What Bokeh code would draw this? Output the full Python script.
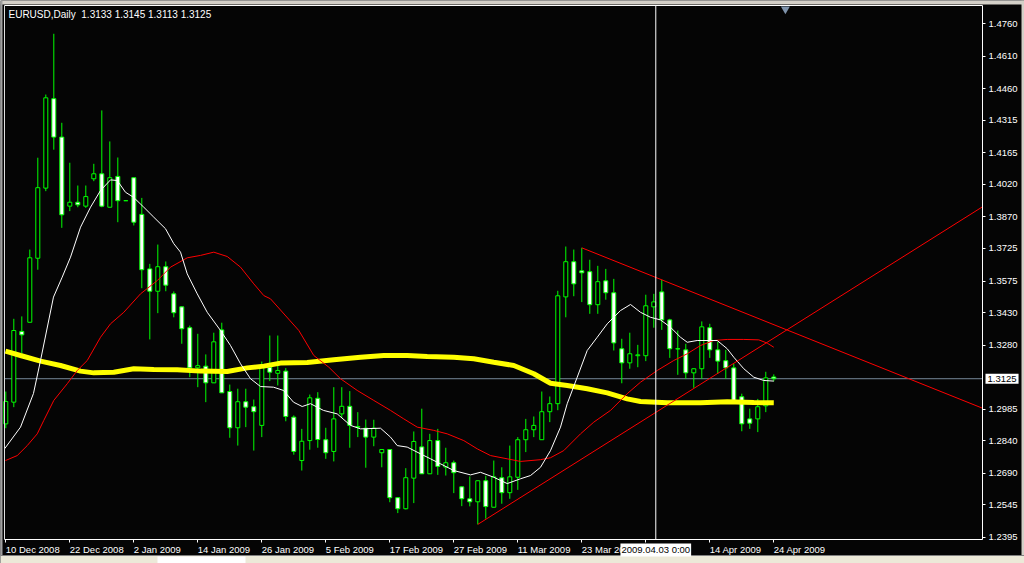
from bokeh.plotting import figure
from bokeh.models import Range1d, FixedTicker, NumeralTickFormatter, Label, ColumnDataSource, LinearAxis
from bokeh.embed import file_html
from bokeh.resources import INLINE

symbol = "EURUSD,Daily"

# Daily candles, 10 Dec 2008 .. 24 Apr 2009 (bar index 0..96)
opens = [1.2917, 1.3017, 1.3343, 1.3385, 1.3680, 1.4003, 1.4415, 1.4238, 1.3920, 1.3938,
         1.3920, 1.4046, 1.4069, 1.3915, 1.4057, 1.3945, 1.4051, 1.3882, 1.3631, 1.3528,
         1.3641, 1.3516, 1.3456, 1.3360, 1.3175, 1.3183, 1.3106, 1.3350, 1.3066, 1.2899,
         1.3019, 1.2996, 1.2910, 1.3178, 1.3150, 1.3160, 1.2948, 1.2748, 1.2840, 1.3035,
         1.2844, 1.2790, 1.2963, 1.2998, 1.2901, 1.2897, 1.2856, 1.2784, 1.2799, 1.2577,
         1.2526, 1.2667, 1.2811, 1.2687, 1.2840, 1.2718, 1.2738, 1.2627, 1.2572, 1.2558,
         1.2655, 1.2533, 1.2669, 1.2600, 1.2671, 1.2844, 1.2890, 1.2844, 1.2973, 1.3010,
         1.3502, 1.3664, 1.3622, 1.3618, 1.3466, 1.3576, 1.3521, 1.3263, 1.3198, 1.3231,
         1.3231, 1.3456, 1.3525, 1.3396, 1.3263, 1.3258, 1.3152, 1.3171, 1.3360, 1.3258,
         1.3208, 1.3175, 1.3042, 1.2940, 1.2940, 1.3000, 1.3133]
highs = [1.3066, 1.3401, 1.3412, 1.3720, 1.4143, 1.4434, 1.4714, 1.4304, 1.4120, 1.4015,
         1.4015, 1.4115, 1.4361, 1.4218, 1.4144, 1.3945, 1.4052, 1.3958, 1.3654, 1.3743,
         1.3665, 1.3527, 1.3458, 1.3370, 1.3332, 1.3237, 1.3337, 1.3383, 1.3098, 1.3079,
         1.3079, 1.3029, 1.3204, 1.3324, 1.3324, 1.3174, 1.2956, 1.2894, 1.3052, 1.3063,
         1.2899, 1.3086, 1.3086, 1.3068, 1.2971, 1.2937, 1.2936, 1.2801, 1.2801, 1.2578,
         1.2713, 1.2882, 1.2987, 1.2871, 1.2894, 1.2807, 1.2748, 1.2629, 1.2675, 1.2655,
         1.2678, 1.2748, 1.2717, 1.2817, 1.2856, 1.2940, 1.2951, 1.3066, 1.3043, 1.3530,
         1.3734, 1.3720, 1.3728, 1.3673, 1.3645, 1.3631, 1.3585, 1.3309, 1.3337, 1.3281,
         1.3512, 1.3516, 1.3581, 1.3401, 1.3347, 1.3286, 1.3172, 1.3389, 1.3378, 1.3295,
         1.3258, 1.3194, 1.3056, 1.2987, 1.3032, 1.3157, 1.3145]
lows = [1.2897, 1.2994, 1.3240, 1.3385, 1.3627, 1.3989, 1.4180, 1.3820, 1.3897, 1.3915,
        1.3912, 1.4035, 1.3915, 1.3915, 1.3846, 1.3945, 1.3831, 1.3542, 1.3306, 1.3427,
        1.3528, 1.3408, 1.3286, 1.3132, 1.3086, 1.3017, 1.3106, 1.3060, 1.2853, 1.2817,
        1.2902, 1.2794, 1.2856, 1.3114, 1.3094, 1.2929, 1.2775, 1.2702, 1.2798, 1.2807,
        1.2756, 1.2744, 1.2945, 1.2807, 1.2856, 1.2715, 1.2814, 1.2717, 1.2556, 1.2506,
        1.2523, 1.2552, 1.2687, 1.2686, 1.2682, 1.2679, 1.2598, 1.2538, 1.2537, 1.2454,
        1.2480, 1.2532, 1.2549, 1.2572, 1.2613, 1.2787, 1.2856, 1.2843, 1.2925, 1.2980,
        1.3408, 1.3505, 1.3478, 1.3424, 1.3424, 1.3489, 1.3255, 1.3104, 1.3171, 1.3178,
        1.3206, 1.3360, 1.3350, 1.3221, 1.3143, 1.3125, 1.3083, 1.3125, 1.3221, 1.3148,
        1.3125, 1.3017, 1.2883, 1.2894, 1.2879, 1.2971, 1.3113]
closes = [1.3020, 1.3347, 1.3327, 1.3682, 1.4005, 1.4419, 1.4238, 1.3880, 1.3938, 1.3926,
          1.3964, 1.4069, 1.3920, 1.4051, 1.3945, 1.3945, 1.3846, 1.3627, 1.3528, 1.3641,
          1.3556, 1.3429, 1.3355, 1.3175, 1.3185, 1.3106, 1.3295, 1.3060, 1.2899, 1.3019,
          1.2994, 1.2973, 1.3178, 1.3155, 1.3163, 1.2951, 1.2790, 1.2837, 1.3037, 1.2845,
          1.2784, 1.2940, 1.2998, 1.2910, 1.2905, 1.2856, 1.2897, 1.2799, 1.2577, 1.2526,
          1.2669, 1.2836, 1.2687, 1.2840, 1.2721, 1.2738, 1.2692, 1.2572, 1.2558, 1.2655,
          1.2536, 1.2673, 1.2600, 1.2673, 1.2844, 1.2890, 1.2910, 1.2973, 1.3010, 1.3507,
          1.3664, 1.3562, 1.3613, 1.3466, 1.3572, 1.3521, 1.3290, 1.3198, 1.3240, 1.3235,
          1.3461, 1.3479, 1.3396, 1.3263, 1.3262, 1.3152, 1.3171, 1.3364, 1.3258, 1.3206,
          1.3175, 1.3022, 1.2917, 1.2920, 1.2996, 1.3129, 1.3125]

# Fast moving average (white): bar position, price
fast_ma_x = [-0.16, 1.84, 3.46, 4.34, 5.96, 7.05, 8.09, 9.34, 10.59, 11.84, 13.09, 13.93, 14.96,
             15.96, 17.25, 18.5, 19.96, 21.0, 21.84, 22.68, 23.93, 25.18, 26.84, 28.09, 29.34,
             30.59, 31.84, 33.46, 34.71, 35.96, 37.05, 38.09, 39.71, 41.43, 43.09, 44.34, 46.84,
             48.09, 48.93, 50.18, 51.84, 53.09, 54.34, 56.0, 58.09, 59.34, 61.0, 62.68, 64.34,
             65.59, 66.84, 68.09, 69.34, 70.18, 71.43, 72.68, 73.93, 75.18, 76.84, 78.09, 79.34,
             80.59, 81.84, 83.09, 84.34, 85.18, 86.43, 88.93, 90.18, 91.0, 92.25, 93.5, 94.75, 96.0]
fast_ma_y = [1.2802, 1.2902, 1.3057, 1.3209, 1.3501, 1.3593, 1.3685, 1.3823, 1.3915, 1.3992,
             1.4041, 1.4038, 1.3984, 1.3961, 1.3915, 1.3869, 1.3816, 1.3747, 1.3708, 1.3608,
             1.3516, 1.3431, 1.3347, 1.3278, 1.3194, 1.3125, 1.3089, 1.3086, 1.3071, 1.3017,
             1.2997, 1.3010, 1.2979, 1.2963, 1.2910, 1.2894, 1.2897, 1.2856, 1.2817, 1.2810,
             1.2779, 1.2756, 1.2733, 1.2702, 1.2682, 1.2694, 1.2671, 1.2642, 1.2664, 1.2679,
             1.2717, 1.2794, 1.2902, 1.3010, 1.3132, 1.3255, 1.3316, 1.3378, 1.3439, 1.3467,
             1.3431, 1.3408, 1.3396, 1.3362, 1.3316, 1.3293, 1.3301, 1.3301, 1.3263, 1.3224,
             1.3171, 1.3132, 1.3117, 1.3114]

# Slow moving average (red)
slow_ma_x = [-0.04, 1.43, 2.68, 3.93, 4.75, 6.0, 7.68, 8.93, 10.18, 11.84, 13.09, 14.75, 16.84,
             18.93, 20.59, 22.68, 24.34, 26.0, 27.68, 29.34, 31.0, 32.25, 33.09, 36.63, 38.5,
             40.38, 41.84, 43.93, 46.0, 48.09, 49.75, 51.43, 53.5, 55.18, 57.25, 58.93, 60.59,
             62.68, 64.34, 66.84, 68.09, 69.75, 71.84, 73.5, 75.59, 77.68, 79.34, 81.43, 83.5,
             85.18, 86.84, 88.5, 90.18, 92.25, 94.13, 95.18, 96.0]
slow_ma_y = [1.2748, 1.2771, 1.2817, 1.2871, 1.2933, 1.3025, 1.3102, 1.3163, 1.3209, 1.3316,
             1.3378, 1.3431, 1.3516, 1.3577, 1.3639, 1.3682, 1.3693, 1.3708, 1.3688, 1.3639,
             1.3562, 1.3508, 1.3493, 1.3347, 1.3232, 1.3178, 1.3125, 1.3071, 1.3025, 1.2979,
             1.2940, 1.2902, 1.2887, 1.2871, 1.2840, 1.2802, 1.2771, 1.2756, 1.2744, 1.2752,
             1.2761, 1.2794, 1.2871, 1.2925, 1.2979, 1.3056, 1.3109, 1.3163, 1.3209, 1.3240,
             1.3278, 1.3301, 1.3306, 1.3306, 1.3304, 1.3289, 1.3270]

# Long moving average (thick yellow)
long_ma_x = [-0.04, 1.84, 4.34, 6.84, 9.34, 11.0, 13.5, 16.0, 18.5, 21.43, 24.34, 27.68, 30.18,
             32.25, 34.34, 37.68, 41.0, 44.34, 47.25, 50.18, 52.68, 56.0, 58.5, 61.0, 63.5,
             66.0, 68.09, 70.18, 72.68, 75.18, 77.68, 79.34, 82.68, 86.84, 90.18, 93.5, 96.0]
long_ma_y = [1.3252, 1.3232, 1.3206, 1.3186, 1.3160, 1.3152, 1.3155, 1.3171, 1.3168, 1.3166,
             1.3160, 1.3158, 1.3175, 1.3183, 1.3197, 1.3200, 1.3212, 1.3224, 1.3232, 1.3232,
             1.3227, 1.3224, 1.3217, 1.3201, 1.3186, 1.3148, 1.3104, 1.3094, 1.3079, 1.3060,
             1.3032, 1.3020, 1.3014, 1.3014, 1.3019, 1.3015, 1.3014]

# Trend lines (two anchors each, drawn as rays to the right edge of the chart)
resistance_bars = [72, 96]
resistance_prices = [1.3728, 1.3374]
support_bars = [59, 96]
support_prices = [1.2454, 1.3312]

# Axis ticks
date_tick_bars = [0, 8, 16, 24, 32, 40, 48, 56, 64, 72, 80, 88, 96]
date_tick_labels = ["10 Dec 2008", "22 Dec 2008", "2 Jan 2009", "14 Jan 2009", "26 Jan 2009",
                    "5 Feb 2009", "17 Feb 2009", "27 Feb 2009", "11 Mar 2009", "23 Mar 2009",
                    "", "14 Apr 2009", "24 Apr 2009"]
price_ticks = [1.4760, 1.4610, 1.4460, 1.4315, 1.4165, 1.4020, 1.3870, 1.3725, 1.3575,
               1.3430, 1.3280, 1.2985, 1.2840, 1.2690, 1.2545, 1.2395]

crosshair_bar = 81.25
crosshair_label = "2009.04.03 0:00"
shift_marker_bar = 97.45

# chart window (inner frame) and whole canvas extents, in bars / price
x_chart_left, x_chart_right = -0.1625, 122.09
y_chart_bottom, y_chart_top = 1.23844, 1.48443
x_view = (-0.6625, 127.34)
y_view = (1.22738, 1.48673)

W, H = 1024, 563
FONT = "Liberation Sans"
FS = "9.5px"
LIME = "#00ff00"
BG = "#050505"
CHROME = "#d4d0c8"

px_x = W / (x_view[1] - x_view[0])      # pixels per bar
px_y = H / (y_view[1] - y_view[0])      # pixels per price unit

p = figure(width=W, height=H, x_range=Range1d(*x_view), y_range=Range1d(*y_view),
           output_backend="svg", toolbar_location=None, y_axis_location="right",
           x_axis_location="below",
           background_fill_color=BG, border_fill_color=BG, outline_line_color=None,
           min_border_left=0, min_border_top=0, min_border_right=0, min_border_bottom=0)
p.grid.visible = False

# window chrome: top strip, left strip, right strip, bottom tab bar
p.quad(left=[x_view[0]], right=[x_view[1]], bottom=[y_view[1] - 4 / px_y], top=[y_view[1]],
       fill_color=CHROME, line_color=None)
p.quad(left=[x_view[0]], right=[x_view[0] + 2 / px_x], bottom=[y_view[0]], top=[y_view[1]],
       fill_color="#a0a0a0", line_color=None)
p.quad(left=[x_view[1] - 3 / px_x], right=[x_view[1]], bottom=[y_view[0]], top=[y_view[1]],
       fill_color=CHROME, line_color=None)
p.quad(left=[x_view[0]], right=[x_view[1]], bottom=[y_view[0]], top=[y_view[0] + 8 / px_y],
       fill_color="#ece9d8", line_color=None)
p.line([x_view[0], x_view[1]], [y_view[0] + 8 / px_y] * 2, line_color="#808080", line_width=1)
p.quad(left=[x_view[0] + 157 / px_x], right=[x_view[0] + 245 / px_x], bottom=[y_view[0]],
       top=[y_view[0] + 7 / px_y], fill_color="white", line_color=None)

# bottom time axis (drawn on the chart window's lower edge)
xa = p.xaxis[0]
xa.fixed_location = y_chart_bottom
xa.bounds = (x_chart_left, x_chart_right)
xa.ticker = FixedTicker(ticks=date_tick_bars)
xa.major_label_overrides = {b: lab for b, lab in zip(date_tick_bars, date_tick_labels)}
xa.major_label_orientation = -1e-6
xa.major_label_standoff = 7
xa.major_label_text_color = "white"
xa.major_label_text_font = FONT
xa.major_label_text_font_size = FS
xa.axis_line_color = "white"
xa.major_tick_line_color = "white"
xa.major_tick_out = 3
xa.major_tick_in = 0
xa.minor_tick_line_color = None

# right price axis (on the chart window's right edge)
ya = p.yaxis[0]
ya.fixed_location = x_chart_right
ya.bounds = (y_chart_bottom, y_chart_top)
ya.ticker = FixedTicker(ticks=price_ticks)
ya.formatter = NumeralTickFormatter(format="0.0000")
ya.axis_line_color = "white"
ya.major_tick_line_color = "white"
ya.major_tick_out = 3
ya.major_tick_in = 0
ya.minor_tick_line_color = None
ya.major_label_standoff = 3
ya.major_label_text_color = "white"
ya.major_label_text_font = FONT
ya.major_label_text_font_size = FS

# top and left edges of the chart window
top_edge = LinearAxis(fixed_location=y_chart_top, bounds=(x_chart_left, x_chart_right),
                      ticker=FixedTicker(ticks=[]), axis_line_color="white",
                      major_tick_line_color=None, minor_tick_line_color=None,
                      major_label_text_font_size="0px")
p.add_layout(top_edge, "above")
left_edge = LinearAxis(fixed_location=x_chart_left, bounds=(y_chart_bottom, y_chart_top),
                       ticker=FixedTicker(ticks=[]), axis_line_color="#e0e0e0",
                       major_tick_line_color=None, minor_tick_line_color=None,
                       major_label_text_font_size="0px")
p.add_layout(left_edge, "left")

last_close = closes[-1]

# bid line (behind the candles)
p.line([x_chart_left, x_chart_right], [last_close, last_close], line_color="#778899", line_width=1)

# candles
bars = list(range(len(opens)))
src = ColumnDataSource(dict(
    x=bars, high=highs, low=lows,
    top=[max(o, c) for o, c in zip(opens, closes)],
    bot=[min(o, c) for o, c in zip(opens, closes)],
    fill=["white" if c < o else "black" for o, c in zip(opens, closes)],
))
p.segment(x0="x", y0="low", x1="x", y1="high", source=src, line_color=LIME, line_width=1)
p.vbar(x="x", width=0.5, top="top", bottom="bot", fill_color="fill",
       line_color=LIME, line_width=1, source=src)

# moving averages
p.line(long_ma_x, long_ma_y, line_color="#ffff00", line_width=5)
p.line(slow_ma_x, slow_ma_y, line_color="#ff0000", line_width=1)
p.line(fast_ma_x, fast_ma_y, line_color="#ffffff", line_width=1)


def ray(bx, py, x_to):
    slope = (py[1] - py[0]) / (bx[1] - bx[0])
    return [bx[0], x_to], [py[0], py[0] + slope * (x_to - bx[0])]


rx, ry = ray(resistance_bars, resistance_prices, x_chart_right)
p.line(rx, ry, line_color="#ff0000", line_width=1)
sx, sy = ray(support_bars, support_prices, x_chart_right)
p.line(sx, sy, line_color="#ff0000", line_width=1)

# crosshair (vertical)
p.line([crosshair_bar, crosshair_bar], [y_chart_bottom, y_chart_top], line_color="white", line_width=1)

# chart shift marker just under the top edge
p.scatter([shift_marker_bar], [y_chart_top - 3.5 / px_y], marker="inverted_triangle",
          size=9, fill_color="#7f93ab", line_color=None)

# title
title = f"{symbol}\u00a0\u00a0{opens[-1]:.4f} {highs[-1]:.4f} {lows[-1]:.4f} {closes[-1]:.4f}"
p.add_layout(Label(x=x_chart_left, y=y_chart_top, x_offset=4, y_offset=-4, text=title,
                   text_color="white", text_font=FONT, text_font_size="10px",
                   text_baseline="top", text_align="left"))

# crosshair time label
p.add_layout(Label(x=crosshair_bar, y=y_chart_bottom, y_offset=-4, text=crosshair_label,
                   text_color="black", background_fill_color="white", text_font=FONT,
                   text_font_size=FS, text_baseline="top", text_align="center", padding=1))

# current price label
p.add_layout(Label(x=x_chart_right, y=last_close, x_offset=3, text=f"{last_close:.4f}",
                   text_color="black", background_fill_color="white", text_font=FONT,
                   text_font_size=FS, text_baseline="middle", text_align="left", padding=2))

open("out.html", "w").write(file_html(p, INLINE))
